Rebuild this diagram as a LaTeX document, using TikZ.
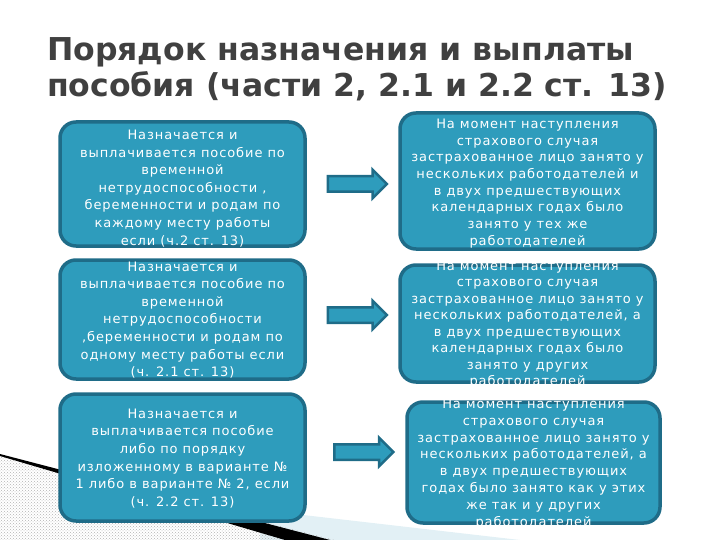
\documentclass[tikz,border=0pt]{standalone}
\usepackage{fontspec}
\setmainfont{DejaVu Sans}
\newfontfamily\boxfont[LetterSpace=7]{DejaVu Sans}
\usepackage{tikz}
\usetikzlibrary{shapes.arrows, patterns, calc}

\definecolor{boxfill}{RGB}{46,156,188}
\definecolor{boxline}{RGB}{31,108,136}
\definecolor{titlegray}{RGB}{64,64,64}
\definecolor{paleblue}{RGB}{226,240,245}

\tikzset{
    box/.style={draw=boxline, fill=boxfill, line width=3.5pt, rounded corners=16pt},
    boxtext/.style={text=white, align=center, inner sep=0pt, font=\boxfont\fontsize{13}{17.6}\selectfont},
    fatarrow/.style={single arrow, draw=boxline, fill=boxfill, line width=2.5pt,
        minimum height=59pt, single arrow head extend=6.5pt, inner sep=6.5pt}
}

\begin{document}
\begin{tikzpicture}[x=1pt, y=-1pt]
    \useasboundingbox (0,0) rectangle (720,540);
    \fill[paleblue] (260,510) -- (520,540) -- (260,540) -- cycle;
    \fill[pattern=crosshatch dots, pattern color=gray!60] (0,455) -- (335,540) -- (0,540) -- cycle;
    \fill[black] (0,454) -- (330,540) -- (285,540) -- (0,456) -- cycle;
\node[anchor=north west, inner sep=0pt, text=titlegray, align=left,
    font=\bfseries\fontsize{31.5}{36}\selectfont] (title) at (47,37)
    {Порядок назначения и выплаты\\пособия (части 2, 2.1 и 2.2 ст. 13)};
\node[box, minimum width=245pt, minimum height=124pt] (left1) at (182.5,184) {};
\node[box, minimum width=245pt, minimum height=119pt] (left2) at (182.5,319.5) {};
\node[box, minimum width=245pt, minimum height=127pt] (left3) at (182.5,457.5) {};
\node[box, minimum width=255pt, minimum height=136pt] (right1) at (527.5,181) {};
\node[box, minimum width=255pt, minimum height=117pt] (right2) at (527.5,323.5) {};
\node[box, minimum width=253pt, minimum height=121pt] (right3) at (533.5,462.5) {};
\node[fatarrow] (arrow1) at ($(left1.east)!0.5!(right1.west) + (1,1.5)$) {};
\node[fatarrow] (arrow2) at ($(left2.east)!0.5!(right2.west) + (1,-6.5)$) {};
\node[fatarrow] (arrow3) at ($(left3.east)!0.5!(right3.west) + (4,-8)$) {};
\node[boxtext] (lefttext1) at (182.5,188.5) {Назначается и\\выплачивается пособие по\\временной\\нетрудоспособности ,\\беременности и родам по\\каждому месту работы\\если  (ч.2 ст. 13)};
\node[boxtext] (lefttext2) at (182.5,320) {Назначается и\\выплачивается пособие по\\временной\\нетрудоспособности\\,беременности и родам по\\одному месту работы  если\\(ч. 2.1 ст. 13)};
\node[boxtext] (lefttext3) at (182.5,458.5) {Назначается и\\выплачивается пособие\\либо  по порядку\\изложенному в варианте №\\1 либо в варианте № 2, если\\(ч. 2.2 ст. 13)};
\node[boxtext, font=\boxfont\fontsize{13}{16.7}\selectfont] (righttext1) at (527.5,183.5) {На момент наступления\\страхового случая\\застрахованное лицо занято у\\нескольких работодателей и\\в двух предшествующих\\календарных годах было\\занято у тех же\\работодателей};
\node[boxtext, font=\boxfont\fontsize{13}{16.5}\selectfont] (righttext2) at (527.5,324.5) {На момент наступления\\страхового случая\\застрахованное лицо занято у\\нескольких работодателей, а\\в двух предшествующих\\календарных годах  было\\занято у других\\работодателей};
\node[boxtext, font=\boxfont\fontsize{13}{16.8}\selectfont] (righttext3) at (533.5,464) {На момент наступления\\страхового случая\\застрахованное лицо занято у\\нескольких работодателей, а\\в двух предшествующих\\годах было занято как у этих\\же так и у других\\работодателей};
\end{tikzpicture}
\end{document}
